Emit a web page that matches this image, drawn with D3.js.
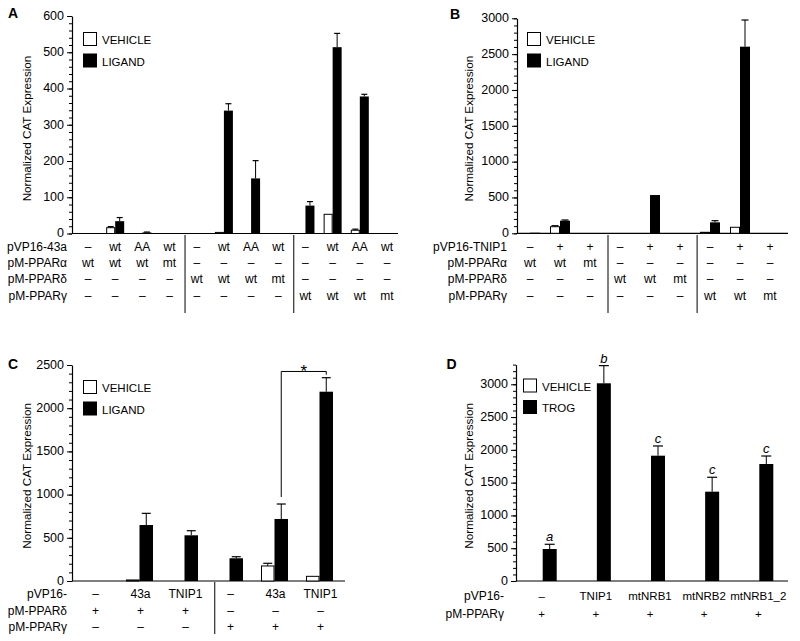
<!DOCTYPE html>
<html><head><meta charset="utf-8">
<script src="https://cdn.jsdelivr.net/npm/d3@7"></script>
<style>body{margin:0;background:#fff}svg{display:block}text{font-family:"Liberation Sans",Arial,Helvetica,sans-serif;fill:#000}</style>
</head><body>
<svg id="chart" width="800" height="641"></svg>
<script>
// ---------- Panel A ----------
const aRow1 = ["–","wt","AA","wt","–","wt","AA","wt","–","wt","AA","wt"];
const aRow2 = ["wt","wt","wt","mt","–","–","–","–","–","–","–","–"];
const aRow3 = ["–","–","–","–","wt","wt","wt","mt","–","–","–","–"];
const aRow4 = ["–","–","–","–","–","–","–","–","wt","wt","wt","mt"];
const aRowNames = ["pVP16-43a","pM-PPARα","pM-PPARδ","pM-PPARγ"];
const aVehicle    = [0, 16, 0, 0, 0, 3, 0, 0, 0, 53, 9, 0];
const aVehicleErr = [null, 19, null, null, null, null, null, null, null, null, 12, null];
const aLigand     = [0, 34, 3, 0, 0, 339, 152, 0, 77, 514, 378, 0];
const aLigandErr  = [null, 44, 4, null, null, 358, 201, null, 88, 552, 384, null];
const aTicks = [0,100,200,300,400,500,600];

// ---------- Panel B ----------
const bRow1 = ["–","+","+","–","+","+","–","+","+"];
const bRow2 = ["wt","wt","mt","–","–","–","–","–","–"];
const bRow3 = ["–","–","–","wt","wt","mt","–","–","–"];
const bRow4 = ["–","–","–","–","–","–","wt","wt","mt"];
const bRowNames = ["pVP16-TNIP1","pM-PPARα","pM-PPARδ","pM-PPARγ"];
const bVehicle    = [0, 92, 0, 0, 0, 0, 14, 84, 0];
const bVehicleErr = [null, 106, null, null, null, null, null, null, null];
const bLigand     = [8, 176, 0, 0, 534, 0, 153, 2604, 0];
const bLigandErr  = [null, 186, null, null, null, null, 176, 2976, null];
const bTicks = [0,500,1000,1500,2000,2500,3000];

// ---------- Panel C ----------
const cRow1 = ["–","43a","TNIP1","–","43a","TNIP1"];
const cRow2 = ["+","+","+","–","–","–"];
const cRow3 = ["–","–","–","+","+","+"];
const cRowNames = ["pVP16-","pM-PPARδ","pM-PPARγ"];
const cVehicle    = [0, 12, 0, 0, 174, 54];
const cVehicleErr = [null, null, null, null, 205, null];
const cLigand     = [0, 648, 529, 263, 718, 2191];
const cLigandErr  = [null, 783, 582, 281, 891, 2353];
const cTicks = [0,500,1000,1500,2000,2500];

// ---------- Panel D ----------
const dRow1 = ["–","TNIP1","mtNRB1","mtNRB2","mtNRB1_2"];
const dRow2 = ["+","+","+","+","+"];
const dRowNames = ["pVP16-","pM-PPARγ"];
const dTrog    = [488, 3015, 1911, 1362, 1784];
const dTrogErr = [560, 3284, 2059, 1582, 1906];
const dLetters = ["a","b","c","c","c"];
const dTicks = [0,500,1000,1500,2000,2500,3000];

const FONT = '"Liberation Sans",Arial,Helvetica,sans-serif';
const svg = d3.select("#chart");

function panel(cfg){
  const g = svg.append("g");
  const n = cfg.rows[0].length;
  const idx = d3.range(n);
  const x = d3.scalePoint().domain(idx).range(cfg.xRange);
  const step = x.step();
  const y = d3.scaleLinear().domain([0, cfg.yMax]).range([cfg.y0, cfg.y1]);

  // minor ticks
  g.append("g").attr("transform",`translate(${cfg.ax},0)`)
    .call(d3.axisLeft(y).tickValues(d3.range(0, cfg.yMax + 0.001, cfg.minor)).tickSize(3).tickFormat(""))
    .call(s=>s.select(".domain").remove())
    .call(s=>s.selectAll("line").attr("stroke","#000"));
  // major ticks
  const ya = g.append("g").attr("transform",`translate(${cfg.ax},0)`)
    .call(d3.axisLeft(y).tickValues(cfg.ticks).tickFormat(d3.format("d")).tickSize(5).tickSizeOuter(0).tickPadding(3));
  ya.select(".domain").attr("stroke","#000").attr("stroke-width",1.2);
  ya.selectAll("line").attr("stroke","#000");
  ya.selectAll("text").attr("font-family",FONT).attr("font-size",12.5).attr("fill","#000").attr("dy","0.26em");

  // x axis line
  g.append("line").attr("x1",cfg.ax).attr("x2",cfg.axEnd).attr("y1",cfg.y0).attr("y2",cfg.y0)
    .attr("stroke","#000").attr("stroke-width",1.2);

  // bars
  const w = cfg.bw;
  function drawSeries(vals, errs, side, fill){
    const data = idx.filter(i=>vals[i] > 0).map(i=>({i, v: vals[i], e: errs ? errs[i] : null}));
    const bx = d => side === "left" ? x(d.i) - w + cfg.shift : x(d.i) + cfg.shift;
    g.selectAll(null).data(data.filter(d=>d.e!=null)).join("line")
      .attr("x1",d=>bx(d)+w/2).attr("x2",d=>bx(d)+w/2)
      .attr("y1",d=>y(d.v)).attr("y2",d=>y(d.e)).attr("stroke","#000").attr("stroke-width",1);
    g.selectAll(null).data(data.filter(d=>d.e!=null)).join("line")
      .attr("x1",d=>bx(d)+w/2-cfg.cap/2).attr("x2",d=>bx(d)+w/2+cfg.cap/2)
      .attr("y1",d=>y(d.e)).attr("y2",d=>y(d.e)).attr("stroke","#000").attr("stroke-width",1.2);
    g.selectAll(null).data(data).join("rect")
      .attr("x",d=>bx(d)+(fill==="#fff"?0.5:0)).attr("width",w-(fill==="#fff"?1:0))
      .attr("y",d=>y(d.v)).attr("height",d=>cfg.y0 - y(d.v))
      .attr("fill",fill).attr("stroke","#000").attr("stroke-width",fill==="#fff"?1:0);
  }
  if (cfg.vehicle) drawSeries(cfg.vehicle, cfg.vehicleErr, "left", "#fff");
  drawSeries(cfg.ligand, cfg.ligandErr, "right", "#000");

  // letters (panel D)
  if (cfg.letters){
    g.selectAll(null).data(idx).join("text")
      .attr("x",i=>x(i)+cfg.shift+w/2).attr("y",i=>y(cfg.ligandErr[i])-3)
      .attr("text-anchor","middle").attr("font-size",13).attr("font-style","italic")
      .attr("font-family",FONT).text(i=>cfg.letters[i]);
  }

  // row labels & cells
  const cellFont = cfg.cellFont || 12;
  cfg.rows.forEach((row, r)=>{
    g.append("text").attr("x",cfg.rowLabelX).attr("y",cfg.rowY[r]).attr("text-anchor","end")
      .attr("font-size",12).attr("font-family",FONT).text(cfg.rowNames[r]);
    g.selectAll(null).data(row).join("text")
      .attr("x",(d,i)=>x(i)).attr("y",cfg.rowY[r]).attr("text-anchor","middle")
      .attr("font-size",cellFont).attr("font-family",FONT).text(d=>d);
  });
  // separators
  (cfg.seps||[]).forEach(s=>{
    const sx = cfg.xRange[0] + step*s;
    g.append("line").attr("x1",sx).attr("x2",sx).attr("y1",cfg.sepY[0]).attr("y2",cfg.sepY[1])
      .attr("stroke","#000").attr("stroke-width",1);
  });

  // legend
  const L = cfg.legend;
  [["#fff",cfg.legendNames[0]],["#000",cfg.legendNames[1]]].forEach(([f,t],k)=>{
    g.append("rect").attr("x",L[0]+0.5).attr("y",L[1]+k*21.5+0.5).attr("width",13).attr("height",13)
      .attr("fill",f).attr("stroke","#000").attr("stroke-width",1);
    g.append("text").attr("x",L[0]+19).attr("y",L[1]+k*21.5+12).attr("font-size",11.5)
      .attr("font-family",FONT).text(t);
  });

  // y label
  g.append("text").attr("transform",`translate(${cfg.yLabelX},${cfg.yLabelY}) rotate(-90)`)
    .attr("text-anchor","middle").attr("font-size",11.7).attr("font-family",FONT)
    .text("Normalized CAT Expression");
  // panel letter
  g.append("text").attr("x",cfg.letterPos[0]).attr("y",cfg.letterPos[1])
    .attr("font-size",14).attr("font-weight","bold").attr("font-family",FONT).text(cfg.letter);
  return {g, x, y, w};
}

panel({letter:"A", letterPos:[8,18], rows:[aRow1,aRow2,aRow3,aRow4], rowNames:aRowNames,
  vehicle:aVehicle, vehicleErr:aVehicleErr, ligand:aLigand, ligandErr:aLigandErr,
  ticks:aTicks, yMax:600, minor:20, y0:233.5, y1:16, ax:72, axEnd:398,
  xRange:[88,387], bw:9, cap:6, shift:0, rowLabelX:67, rowY:[250.5,266.5,283,299.5],
  seps:[3.57,7.57], sepY:[235,313], legend:[83,32], legendNames:["VEHICLE","LIGAND"],
  yLabelX:31, yLabelY:128.5});

panel({letter:"B", letterPos:[450,18.5], rows:[bRow1,bRow2,bRow3,bRow4], rowNames:bRowNames,
  vehicle:bVehicle, vehicleErr:bVehicleErr, ligand:bLigand, ligandErr:bLigandErr,
  ticks:bTicks, yMax:3000, minor:100, y0:233.3, y1:18.3, ax:517, axEnd:788,
  xRange:[530,770], bw:10, cap:7, shift:0, rowLabelX:507, rowY:[250.5,266.5,283,299.5],
  seps:[2.6,5.57], sepY:[235,313], legend:[527,32], legendNames:["VEHICLE","LIGAND"],
  yLabelX:472.5, yLabelY:128.7});

const pc = panel({letter:"C", letterPos:[8,368.5], rows:[cRow1,cRow2,cRow3], rowNames:cRowNames,
  vehicle:cVehicle, vehicleErr:cVehicleErr, ligand:cLigand, ligandErr:cLigandErr,
  ticks:cTicks, yMax:2500, minor:100, y0:581, y1:365, ax:72, axEnd:345,
  xRange:[95.5,320.5], bw:13.5, cap:9, shift:-1, rowLabelX:67, rowY:[598,614.5,630.5],
  seps:[2.65], sepY:[582,634], legend:[83,380], legendNames:["VEHICLE","LIGAND"],
  yLabelX:31, yLabelY:475.8});

// significance bracket in C (between 43a and TNIP1 with PPARγ, ligand)
{
  const {g, x, y, w} = pc;
  const bx1 = x(4) - 1 + w/2, bx2 = x(5) - 1 + w/2;
  const top = y(2425);
  g.append("path").attr("d",`M${bx1},${y(cLigandErr[4]) - 7}V${top}H${bx2}V${y(cLigandErr[5]) - 3}`)
    .attr("fill","none").attr("stroke","#000").attr("stroke-width",1);
  g.append("text").attr("x",(bx1+bx2)/2).attr("y",top+6).attr("text-anchor","middle")
    .attr("font-size",17).attr("font-family",FONT).text("*");
}

panel({letter:"D", letterPos:[446.5,368.5], rows:[dRow1,dRow2], rowNames:dRowNames,
  vehicle:null, ligand:dTrog, ligandErr:dTrogErr, letters:dLetters,
  ticks:dTicks, yMax:3300, minor:100, y0:581, y1:364.6, ax:516, axEnd:788,
  xRange:[541.7,758.3], bw:14, cap:10, shift:1, rowLabelX:504, rowY:[600,617.5], cellFont:11.5,
  seps:[], sepY:[0,0], legend:[523,378.5], legendNames:["VEHICLE","TROG"],
  yLabelX:472.5, yLabelY:475.8});
</script>
</body></html>
